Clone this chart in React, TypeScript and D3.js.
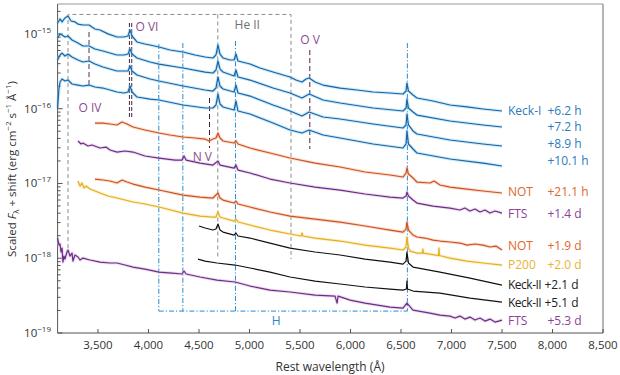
import React from 'react';
import * as d3 from 'd3';

type Pt = [number, number]; // [rest wavelength (Å), log10 scaled flux]

// ---------- axes ----------
const xTicks = [3500, 4000, 4500, 5000, 5500, 6000, 6500, 7000, 7500, 8000, 8500];
const yDecades = [-19, -18, -17, -16, -15];

// ---------- spectra (log10 of scaled F_lambda + shift) ----------
const keckI_6_2h: Pt[] = [
  [3100, -14.854], [3124, -14.8], [3144, -14.84], [3173, -14.787], [3203, -14.761], [3233, -14.827], [3272, -14.84],
  [3302, -14.868], [3351, -14.881], [3411, -14.881], [3470, -14.934], [3520, -14.948], [3599, -15.0], [3688, -15.041],
  [3757, -15.041], [3797, -15.028], [3817, -14.948], [3837, -15.028], [3886, -15.108], [3965, -15.135], [4015, -15.148],
  [4104, -15.175], [4213, -15.215], [4342, -15.242], [4461, -15.282], [4560, -15.309], [4638, -15.322], [4668, -15.282],
  [4688, -15.148], [4708, -15.269], [4738, -15.322], [4807, -15.349], [4847, -15.349], [4866, -15.269], [4886, -15.362],
  [5005, -15.403], [5104, -15.456], [5233, -15.51], [5401, -15.576], [5460, -15.617], [5520, -15.643], [5560, -15.603],
  [5590, -15.59], [5649, -15.643], [5728, -15.684], [5897, -15.724], [6065, -15.75], [6223, -15.777], [6391, -15.79],
  [6520, -15.804], [6550, -15.764], [6559, -15.657], [6574, -15.764], [6619, -15.817], [6658, -15.857], [6817, -15.897],
  [6985, -15.951], [7153, -15.977], [7312, -16.004], [7500, -16.031],
];
const keckI_7_2h: Pt[] = [
  [3100, -15.055], [3124, -15.0], [3144, -15.015], [3173, -15.041], [3203, -15.028], [3243, -15.082], [3302, -15.122],
  [3351, -15.162], [3411, -15.162], [3470, -15.202], [3549, -15.229], [3688, -15.282], [3757, -15.282], [3797, -15.269],
  [3817, -15.202], [3837, -15.269], [3886, -15.322], [4015, -15.376], [4104, -15.403], [4342, -15.456], [4560, -15.51],
  [4638, -15.523], [4668, -15.483], [4688, -15.362], [4708, -15.47], [4738, -15.51], [4847, -15.563], [4866, -15.483],
  [4886, -15.576], [5005, -15.617], [5233, -15.724], [5401, -15.79], [5520, -15.857], [5590, -15.804], [5728, -15.884],
  [5897, -15.924], [6223, -15.991], [6520, -16.031], [6550, -15.991], [6559, -15.871], [6574, -15.991], [6619, -16.044],
  [6658, -16.085], [6985, -16.165], [7312, -16.218], [7500, -16.245],
];
const keckI_8_9h: Pt[] = [
  [3100, -15.349], [3124, -15.282], [3144, -15.256], [3173, -15.296], [3203, -15.269], [3243, -15.309], [3302, -15.349],
  [3351, -15.376], [3411, -15.362], [3470, -15.403], [3549, -15.443], [3688, -15.496], [3757, -15.496], [3797, -15.496],
  [3817, -15.429], [3837, -15.496], [3886, -15.55], [4015, -15.603], [4104, -15.63], [4342, -15.697], [4560, -15.75],
  [4638, -15.764], [4668, -15.724], [4688, -15.576], [4708, -15.697], [4738, -15.737], [4847, -15.777], [4866, -15.684],
  [4886, -15.79], [5005, -15.831], [5233, -15.951], [5401, -16.031], [5520, -16.098], [5590, -16.044], [5728, -16.111],
  [5897, -16.138], [6223, -16.205], [6520, -16.258], [6550, -16.218], [6559, -16.071], [6574, -16.218], [6619, -16.298],
  [6658, -16.339], [6985, -16.419], [7312, -16.472], [7500, -16.499],
];
const keckI_10_1h: Pt[] = [
  [3100, -15.991], [3112, -15.75], [3124, -15.643], [3144, -15.603], [3173, -15.63], [3203, -15.617], [3243, -15.67],
  [3302, -15.684], [3351, -15.697], [3411, -15.684], [3470, -15.71], [3549, -15.724], [3688, -15.777], [3757, -15.79],
  [3797, -15.777], [3817, -15.697], [3837, -15.777], [3886, -15.844], [4015, -15.871], [4104, -15.884], [4342, -15.951],
  [4560, -15.991], [4638, -15.991], [4668, -15.951], [4688, -15.804], [4708, -15.937], [4738, -15.977], [4847, -16.018],
  [4866, -15.897], [4886, -16.031], [5005, -16.071], [5233, -16.192], [5401, -16.285], [5520, -16.325], [5590, -16.285],
  [5728, -16.352], [5897, -16.392], [6223, -16.472], [6520, -16.526], [6550, -16.472], [6559, -16.298], [6574, -16.472],
  [6619, -16.539], [6658, -16.593], [6985, -16.673], [7312, -16.727], [7500, -16.767],
];
const not_21_1h: Pt[] = [
  [3470, -16.192], [3549, -16.192], [3619, -16.205], [3688, -16.218], [3738, -16.178], [3787, -16.205], [3847, -16.245],
  [3965, -16.285], [4104, -16.325], [4213, -16.352], [4342, -16.379], [4461, -16.392], [4560, -16.406], [4599, -16.432],
  [4638, -16.406], [4668, -16.392], [4688, -16.325], [4708, -16.392], [4738, -16.432], [4847, -16.459], [4866, -16.432],
  [4886, -16.472], [5005, -16.526], [5203, -16.593], [5401, -16.66], [5649, -16.727], [5897, -16.78], [6144, -16.847],
  [6391, -16.887], [6520, -16.914], [6550, -16.86], [6559, -16.794], [6574, -16.874], [6619, -16.927], [6658, -16.981],
  [6787, -16.994], [6827, -16.967], [6886, -17.021], [6985, -17.048], [7153, -17.075], [7312, -17.101], [7500, -17.128],
];
const fts_1_4d: Pt[] = [
  [3302, -16.432], [3332, -16.472], [3351, -16.459], [3401, -16.499], [3440, -16.486], [3520, -16.526], [3579, -16.513],
  [3619, -16.553], [3688, -16.58], [3767, -16.566], [3847, -16.58], [3965, -16.633], [4104, -16.66], [4263, -16.687],
  [4332, -16.687], [4352, -16.633], [4372, -16.687], [4510, -16.727], [4638, -16.754], [4688, -16.7], [4708, -16.754],
  [4847, -16.794], [4866, -16.754], [4886, -16.821], [5005, -16.86], [5203, -16.941], [5401, -16.994], [5649, -17.048],
  [5897, -17.088], [6144, -17.141], [6391, -17.182], [6520, -17.195], [6550, -17.168], [6559, -17.115], [6574, -17.168],
  [6619, -17.222], [6658, -17.262], [6817, -17.302], [6985, -17.329], [7084, -17.355], [7133, -17.329], [7183, -17.369],
  [7233, -17.342], [7282, -17.382], [7332, -17.355], [7381, -17.396], [7431, -17.369], [7500, -17.396],
];
const not_1_9d: Pt[] = [
  [3470, -16.941], [3549, -16.954], [3619, -16.967], [3688, -16.994], [3738, -16.954], [3787, -16.981], [3847, -17.008],
  [3965, -17.048], [4104, -17.088], [4342, -17.155], [4510, -17.182], [4638, -17.195], [4688, -17.128], [4708, -17.195],
  [4738, -17.222], [4847, -17.262], [4866, -17.235], [4886, -17.275], [5005, -17.315], [5203, -17.382], [5401, -17.436],
  [5649, -17.476], [5897, -17.516], [6144, -17.569], [6391, -17.623], [6520, -17.65], [6550, -17.61], [6559, -17.516],
  [6574, -17.623], [6619, -17.69], [6658, -17.716], [6737, -17.73], [6817, -17.757], [6886, -17.77], [6985, -17.783],
  [7084, -17.797], [7153, -17.824], [7233, -17.81], [7312, -17.824], [7381, -17.85], [7440, -17.837], [7500, -17.89],
];
const p200_2_0d: Pt[] = [
  [3302, -16.967], [3322, -17.035], [3341, -16.994], [3361, -17.061], [3381, -17.035], [3421, -17.075], [3470, -17.101],
  [3520, -17.128], [3599, -17.168], [3688, -17.195], [3847, -17.248], [3965, -17.275], [4104, -17.315], [4342, -17.396],
  [4510, -17.436], [4638, -17.449], [4668, -17.449], [4688, -17.382], [4708, -17.449], [4738, -17.462], [4847, -17.503],
  [4866, -17.476], [4886, -17.516], [5005, -17.556], [5203, -17.623], [5401, -17.676], [5510, -17.703], [5520, -17.663],
  [5530, -17.703], [5649, -17.73], [5897, -17.77], [6144, -17.824], [6391, -17.864], [6520, -17.89], [6550, -17.85],
  [6559, -17.716], [6574, -17.864], [6589, -17.904], [6658, -17.931], [6712, -17.931], [6717, -17.877], [6722, -17.931],
  [6871, -17.964], [6876, -17.864], [6881, -17.964], [6985, -17.998], [7153, -18.038], [7312, -18.064], [7500, -18.091],
];
const keckII_2_1d: Pt[] = [
  [4500, -17.569], [4560, -17.596], [4638, -17.623], [4668, -17.609], [4688, -17.543], [4708, -17.623], [4738, -17.65],
  [4847, -17.69], [4866, -17.663], [4886, -17.703], [5005, -17.73], [5203, -17.797], [5401, -17.864], [5649, -17.917],
  [5897, -17.957], [6144, -18.011], [6391, -18.051], [6520, -18.078], [6550, -18.038], [6559, -17.917], [6574, -18.064],
  [6619, -18.118], [6886, -18.185], [7183, -18.265], [7500, -18.359],
];
const keckII_5_1d: Pt[] = [
  [4490, -18.011], [4560, -18.038], [4678, -18.064], [4857, -18.091], [5005, -18.131], [5203, -18.185], [5401, -18.251],
  [5649, -18.305], [5897, -18.345], [6144, -18.385], [6391, -18.412], [6520, -18.426], [6554, -18.412], [6559, -18.305],
  [6564, -18.412], [6619, -18.439], [6886, -18.466], [7183, -18.533], [7500, -18.586],
];
const fts_5_3d: Pt[] = [
  [3100, -17.73], [3114, -17.824], [3124, -17.81], [3134, -17.917], [3144, -17.864], [3153, -18.051], [3163, -17.971],
  [3173, -18.011], [3193, -17.917], [3203, -17.89], [3223, -17.971], [3243, -17.931], [3252, -18.038], [3272, -17.957],
  [3302, -17.984], [3322, -18.024], [3351, -17.998], [3421, -18.024], [3520, -18.051], [3619, -18.064], [3688, -18.064],
  [3767, -18.091], [3847, -18.118], [3965, -18.145], [4104, -18.185], [4233, -18.198], [4332, -18.211], [4352, -18.171],
  [4372, -18.211], [4510, -18.251], [4678, -18.292], [4857, -18.318], [5005, -18.372], [5203, -18.426], [5401, -18.452],
  [5649, -18.493], [5847, -18.506], [5867, -18.6], [5877, -18.506], [5996, -18.56], [6144, -18.6], [6391, -18.653],
  [6520, -18.667], [6559, -18.6], [6619, -18.693], [6787, -18.734], [6886, -18.761], [6985, -18.774], [7034, -18.8],
  [7084, -18.774], [7133, -18.814], [7183, -18.787], [7233, -18.827], [7282, -18.8], [7332, -18.841], [7381, -18.814],
  [7431, -18.854], [7500, -18.827],
];

const spectra = [
  { data: keckI_6_2h, color: '#1865a8', halo: '#8ccff0' },
  { data: keckI_7_2h, color: '#1865a8', halo: '#8ccff0' },
  { data: keckI_8_9h, color: '#1865a8', halo: '#8ccff0' },
  { data: keckI_10_1h, color: '#1865a8', halo: '#8ccff0' },
  { data: not_21_1h, color: '#cc5226', halo: '#f6b48c' },
  { data: fts_1_4d, color: '#6f2c86', halo: '#d2b3de' },
  { data: not_1_9d, color: '#cc5226', halo: '#f6b48c' },
  { data: p200_2_0d, color: '#e6ae24', halo: '#f8dd8c' },
  { data: keckII_2_1d, color: '#111111', halo: 'none' },
  { data: keckII_5_1d, color: '#111111', halo: 'none' },
  { data: fts_5_3d, color: '#6f2c86', halo: '#d2b3de' },
];

// ---------- right-hand labels ----------
const labelInstr = ['Keck-I', '', '', '', 'NOT', 'FTS', 'NOT', 'P200', 'Keck-II', 'Keck-II', 'FTS'];
const labelEpoch = ['+6.2 h', '+7.2 h', '+8.9 h', '+10.1 h', '+21.1 h', '+1.4 d', '+1.9 d', '+2.0 d', '+2.1 d', '+5.1 d', '+5.3 d'];
const labelLogF = [-16.025, -16.24, -16.468, -16.7, -17.11, -17.4, -17.837, -18.091, -18.352, -18.59, -18.84];
const labelColor = ['#2b7bbd', '#2b7bbd', '#2b7bbd', '#2b7bbd', '#e0662c', '#8a3f98', '#e0662c', '#e8b530', '#222', '#222', '#8a3f98'];
const labelEpochX = [7950, 7950, 7950, 7950, 7950, 7950, 7950, 7950, 7920, 7920, 7950];

// ---------- line identifications ----------
const heIIWaves = [3203, 4686, 5411];
const heIITop = -14.74;
const heIIBottom = [-17.864, -17.984, -18.011];
const oviWaves = [3811, 3834];
const oviRange = [-14.854, -16.125];
const oivWave = 3411;
const oivRange = [-14.975, -15.684];
const ovWave = 5597;
const ovRange = [-15.215, -16.539];
const nvWave = 4604;
const nvRange = [-15.857, -16.526];
const hWaves = [4102, 4340, 4861, 6563];
const hTop = [-15.135, -15.122, -15.095, -15.122];
const hBottom = -18.707;

const ionLabels = [
  { text: 'He II', w: 4978, l: -14.88, color: '#707070' },
  { text: 'O VI', w: 3985, l: -14.908, color: '#8a4c90' },
  { text: 'O IV', w: 3421, l: -15.991, color: '#8a4c90' },
  { text: 'O V', w: 5600, l: -15.082, color: '#8a4c90' },
  { text: 'N V', w: 4533, l: -16.646, color: '#8a4c90' },
  { text: 'H', w: 5263, l: -18.84, color: '#2a86c8' },
];

const FONT = '"Open Sans", "Noto Sans", sans-serif';

export default function App() {
  const x = d3.scaleLinear().domain([3100, 8500]).range([57.6, 603]);
  const y = d3.scaleLog().domain([1e-19, 10 ** -14.6]).range([333, 4]);
  const yL = (l: number) => y(10 ** l);
  const line = d3.line<Pt>().x((d) => x(d[0])).y((d) => yL(d[1]));
  const [x0, x1] = x.range();
  const [yb, yt] = y.range();
  const fmt = d3.format(',');

  const minors: number[] = [];
  for (const n of yDecades) {
    for (let k = 2; k <= 9; k++) {
      const v = k * 10 ** n;
      if (v < y.domain()[1]) minors.push(v);
    }
  }

  const dashGray = '4,3';
  const dashDot = '5,2,1.2,2';

  return (
    <svg width={620} height={375} style={{ position: 'absolute', left: 0, top: 0, background: '#fff' }} fontFamily={FONT}>
      {/* frame */}
      <line x1={x0} x2={x1} y1={yt} y2={yt} stroke="#9a9a9a" strokeWidth={1} />
      <line x1={x1} x2={x1} y1={yt} y2={yb} stroke="#6a6a6a" strokeWidth={1} />
      <line x1={x0} x2={x0} y1={yt} y2={yb} stroke="#555" strokeWidth={1} />
      <line x1={x0} x2={x1} y1={yb} y2={yb} stroke="#555" strokeWidth={1} />

      {/* x ticks */}
      {xTicks.map((t) => (
        <g key={t}>
          <line x1={x(t)} x2={x(t)} y1={yb} y2={yb - 4} stroke="#555" />
          <text x={x(t)} y={349} textAnchor="middle" fontSize={11.5} fill="#333">{fmt(t)}</text>
        </g>
      ))}
      {/* y ticks */}
      {yDecades.map((n) => (
        <g key={n}>
          <line x1={x0} x2={x0 + 5} y1={y(10 ** n)} y2={y(10 ** n)} stroke="#555" />
          <text x={51} y={y(10 ** n) + 4} textAnchor="end" fontSize={11.5} fill="#333">
            10<tspan fontSize={8} dy={-5}>{'\u2212' + Math.abs(n)}</tspan>
          </text>
        </g>
      ))}
      {minors.map((v) => (
        <line key={v} x1={x0} x2={x0 + 3} y1={y(v)} y2={y(v)} stroke="#555" />
      ))}

      {/* axis titles */}
      <text x={330} y={371} textAnchor="middle" fontSize={12} fill="#333">Rest wavelength (Å)</text>
      <text transform="translate(16,169) rotate(-90)" textAnchor="middle" fontSize={11.5} fill="#333">
        Scaled <tspan fontStyle="italic">F</tspan><tspan fontSize={8} dy={3}>λ</tspan>
        <tspan dy={-3}> + shift (erg cm</tspan><tspan fontSize={8} dy={-5}>−2</tspan>
        <tspan dy={5}> s</tspan><tspan fontSize={8} dy={-5}>−1</tspan>
        <tspan dy={5}> Å</tspan><tspan fontSize={8} dy={-5}>−1</tspan><tspan dy={5}>)</tspan>
      </text>

      {/* He II box */}
      <path
        d={`M${x(heIIWaves[0])},${yL(heIIBottom[0])}V${yL(heIITop)}H${x(heIIWaves[2])}V${yL(heIIBottom[2])}`}
        fill="none" stroke="#8a8a8a" strokeDasharray={dashGray} strokeWidth={1}
      />
      <line x1={x(heIIWaves[1])} x2={x(heIIWaves[1])} y1={yL(heIITop)} y2={yL(heIIBottom[1])} stroke="#8a8a8a" strokeDasharray={dashGray} />

      {/* O VI, O IV, O V, N V */}
      {oviWaves.map((w) => (
        <line key={w} x1={x(w)} x2={x(w)} y1={yL(oviRange[0])} y2={yL(oviRange[1])} stroke="#3e2440" strokeDasharray="4,2" />
      ))}
      <line x1={x(oivWave)} x2={x(oivWave)} y1={yL(oivRange[0])} y2={yL(oivRange[1])} stroke="#4a3550" strokeDasharray="5,3" />
      <line x1={x(ovWave)} x2={x(ovWave)} y1={yL(ovRange[0])} y2={yL(ovRange[1])} stroke="#5a2048" strokeDasharray="5,3" />
      <line x1={x(nvWave)} x2={x(nvWave)} y1={yL(nvRange[0])} y2={yL(nvRange[1])} stroke="#3a1a30" strokeDasharray="5,3" />

      {/* H lines */}
      {hWaves.map((w, i) => (
        <line key={w} x1={x(w)} x2={x(w)} y1={yL(hTop[i])} y2={yL(hBottom)} stroke="#2a8bd0" strokeDasharray={dashDot} />
      ))}
      <line x1={x(hWaves[0])} x2={x(hWaves[3])} y1={yL(hBottom)} y2={yL(hBottom)} stroke="#2a8bd0" strokeDasharray={dashDot} />

      {/* spectra halos */}
      {spectra.map((s, i) =>
        s.halo === 'none' ? null : (
          <path key={'h' + i} d={line(s.data) || ''} fill="none" stroke={s.halo} strokeWidth={3.2} strokeOpacity={0.45} strokeLinejoin="round" />
        )
      )}
      {spectra.map((s, i) => (
        <path key={'s' + i} d={line(s.data) || ''} fill="none" stroke={s.color} strokeWidth={1.2} strokeLinejoin="round" />
      ))}

      {/* ion labels */}
      {ionLabels.map((t) => (
        <text key={t.text} x={x(t.w)} y={yL(t.l)} dy="0.35em" textAnchor="middle" fontSize={12} fill={t.color}>{t.text}</text>
      ))}

      {/* right labels */}
      {labelEpoch.map((e, i) => (
        <g key={e + i} fill={labelColor[i]} fontSize={12}>
          {labelInstr[i] && (
            <text x={508} y={yL(labelLogF[i])} dy="0.35em" letterSpacing={labelInstr[i] === 'Keck-II' ? -0.5 : 0}>
              {labelInstr[i]}
            </text>
          )}
          <text x={x(labelEpochX[i])} y={yL(labelLogF[i])} dy="0.35em">{e}</text>
        </g>
      ))}
    </svg>
  );
}
